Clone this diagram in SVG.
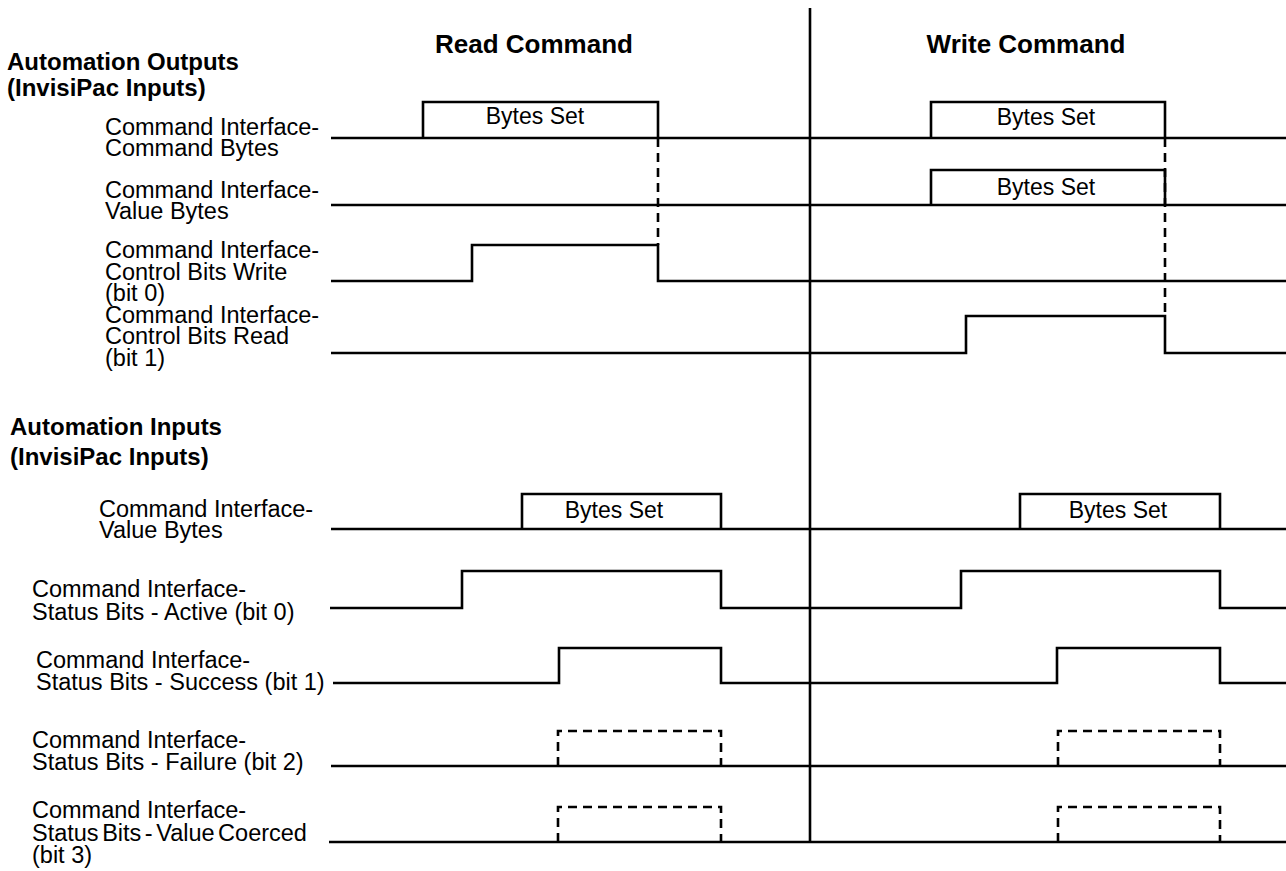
<svg xmlns="http://www.w3.org/2000/svg" width="1286" height="871" viewBox="0 0 1286 871">
<style>
text{font-family:"Liberation Sans",Arial,Helvetica,sans-serif;fill:#000}
.lbl{font-size:23.5px}
.hd{font-size:24px;font-weight:bold}
.col{font-size:26px;font-weight:bold}
.bs{font-size:23px;text-anchor:middle}
.sig{fill:none;stroke:#000;stroke-width:2.6;stroke-linejoin:miter;stroke-linecap:butt}
.dash{fill:none;stroke:#000;stroke-width:2.6;stroke-dasharray:9 6}
</style>
<rect width="1286" height="871" fill="#fff"/>
<g id="headers">
<text class="col" x="534" y="53" text-anchor="middle">Read Command</text>
<text class="col" x="1026" y="53" text-anchor="middle">Write Command</text>
<text class="hd" x="7" y="70">Automation Outputs</text>
<text class="hd" x="7" y="96">(InvisiPac Inputs)</text>
<text class="hd" x="10" y="435">Automation Inputs</text>
<text class="hd" x="10" y="465">(InvisiPac Inputs)</text>
<line class="sig" x1="810" y1="8" x2="810" y2="843"/>
</g>
<g id="out-command-bytes">
<text class="lbl" x="105" y="135">Command Interface-</text>
<text class="lbl" x="105" y="156">Command Bytes</text>
<path class="sig" d="M331,138 H1286 M423,138 V102 H658 V138 M931,138 V102 H1165 V138"/>
<text class="bs" x="535" y="124">Bytes Set</text>
<text class="bs" x="1046" y="125">Bytes Set</text>
</g>
<g id="out-value-bytes">
<text class="lbl" x="105" y="198">Command Interface-</text>
<text class="lbl" x="105" y="219">Value Bytes</text>
<path class="sig" d="M331,205 H1286 M931,205 V170 H1165 V205"/>
<text class="bs" x="1046" y="195">Bytes Set</text>
</g>
<g id="out-control-write">
<text class="lbl" x="105" y="258">Command Interface-</text>
<text class="lbl" x="105" y="280">Control Bits Write</text>
<text class="lbl" x="105" y="301">(bit 0)</text>
<path class="sig" d="M331,281 H472 V245 H658 V281 H1286"/>
</g>
<g id="out-control-read">
<text class="lbl" x="105" y="323">Command Interface-</text>
<text class="lbl" x="105" y="344">Control Bits Read</text>
<text class="lbl" x="105" y="366">(bit 1)</text>
<path class="sig" d="M331,353 H966 V316 H1165 V353 H1286"/>
</g>
<g id="in-value-bytes">
<text class="lbl" x="99" y="517">Command Interface-</text>
<text class="lbl" x="99" y="538">Value Bytes</text>
<path class="sig" d="M331,529 H1286 M522,529 V494 H721 V529 M1020,529 V494 H1220 V529"/>
<text class="bs" x="614" y="518">Bytes Set</text>
<text class="bs" x="1118" y="518">Bytes Set</text>
</g>
<g id="in-active">
<text class="lbl" x="32" y="597">Command Interface-</text>
<text class="lbl" x="32" y="620">Status Bits - Active (bit 0)</text>
<path class="sig" d="M330,608 H462 V571 H721 V608 H961 V571 H1220 V608 H1286"/>
</g>
<g id="in-success">
<text class="lbl" x="36" y="668">Command Interface-</text>
<text class="lbl" x="36" y="690">Status Bits - Success (bit 1)</text>
<path class="sig" d="M333,683 H559 V648 H721 V683 H1057 V648 H1220 V683 H1286"/>
</g>
<g id="in-failure">
<text class="lbl" x="32" y="748">Command Interface-</text>
<text class="lbl" x="32" y="770">Status Bits - Failure (bit 2)</text>
<path class="sig" d="M331,766 H1286"/>
<path class="dash" d="M558,766 V731 H721 V766 M1058,766 V731 H1220 V766"/>
</g>
<g id="in-coerced">
<text class="lbl" x="32" y="818">Command Interface-</text>
<text class="lbl" x="32" y="841" word-spacing="-3">Status Bits - Value Coerced</text>
<text class="lbl" x="32" y="863">(bit 3)</text>
<path class="sig" d="M329,842 H1286"/>
<path class="dash" d="M558,842 V807 H721 V842 M1058,842 V807 H1220 V842"/>
</g>
<g id="connectors">
<line class="dash" x1="658" y1="138" x2="658" y2="245"/>
<line class="dash" x1="1165" y1="138" x2="1165" y2="316"/>
</g>
</svg>
